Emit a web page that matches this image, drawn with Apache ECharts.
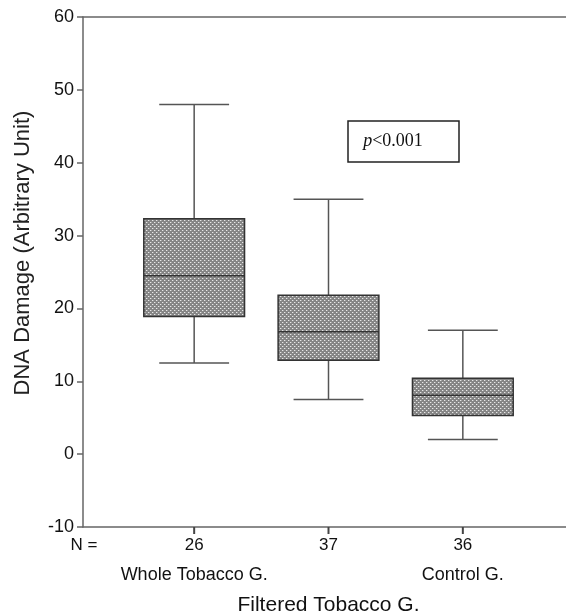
<!DOCTYPE html>
<html>
<head>
<meta charset="utf-8">
<script src="https://cdn.jsdelivr.net/npm/echarts@6/dist/echarts.min.js"></script>
<style>
  html, body { margin: 0; padding: 0; background: #fff; }
  #main { width: 566px; height: 615px; }
</style>
</head>
<body>
<div id="main"></div>
<script>
// groups and counts
var groups = ['Whole Tobacco G.', 'Filtered Tobacco G.', 'Control G.'];
var nCounts = [26, 37, 36];
// box statistics
var whiskerLow = [12.5, 7.5, 2.0];
var q1 = [18.9, 12.9, 5.3];
var median = [24.5, 16.8, 8.1];
var q3 = [32.3, 21.8, 10.4];
var whiskerHigh = [48, 35, 17];
var yMin = -10, yMax = 60;

var chart = echarts.init(document.getElementById('main'), null, { renderer: 'canvas' });

// crosshatch fill (grey with light dots)
var pat = document.createElement('canvas');
pat.width = 4;
pat.height = 4;
var pctx = pat.getContext('2d');
pctx.fillStyle = '#858585';
pctx.fillRect(0, 0, 4, 4);
pctx.fillStyle = '#e8e8e8';
pctx.fillRect(0, 0, 1, 1);
pctx.fillRect(2, 2, 1, 1);
pctx.fillStyle = '#a8a8a8';
pctx.fillRect(1, 0, 1, 1);
pctx.fillRect(3, 2, 1, 1);

var boxData = groups.map(function (g, i) {
  return [i, whiskerLow[i], q1[i], median[i], q3[i], whiskerHigh[i]];
});
var tickData = groups.map(function (g, i) { return [i, yMin]; });

var font = '"Liberation Sans", Arial, sans-serif';

var option = {
  backgroundColor: '#fff',
  animation: false,
  grid: [
    { left: 83, right: 0, top: 17, bottom: 88, outerBoundsMode: 'none', containLabel: false },
    { left: 127, width: 403, top: 17, bottom: 88, outerBoundsMode: 'none', containLabel: false }
  ],
  xAxis: [
    {
      type: 'value', gridIndex: 0, min: 0, max: 1,
      axisLine: { show: true, onZero: false, lineStyle: { color: '#666', width: 1.5 } },
      axisTick: { show: false }, axisLabel: { show: false }, splitLine: { show: false }
    },
    {
      type: 'value', gridIndex: 0, min: 0, max: 1, position: 'top',
      axisLine: { show: true, onZero: false, lineStyle: { color: '#666', width: 1.5 } },
      axisTick: { show: false }, axisLabel: { show: false }, splitLine: { show: false }
    },
    {
      type: 'category', gridIndex: 1, data: groups, position: 'bottom',
      axisLine: { show: false, onZero: false },
      axisTick: { show: false },
      axisLabel: {
        margin: 3,
        interval: 0,
        fontFamily: font,
        fontSize: 17,
        color: '#111',
        lineHeight: 30,
        formatter: function (v, i) {
          if (i === 1) return nCounts[i] + '\n\n{big|' + v + '}';
          return nCounts[i] + '\n{mid|' + v + '}';
        },
        rich: {
          mid: { fontFamily: font, fontSize: 18, color: '#111', lineHeight: 30 },
          big: { fontFamily: font, fontSize: 21, color: '#111', lineHeight: 30 }
        }
      }
    }
  ],
  yAxis: [
    {
      type: 'value', gridIndex: 0, min: yMin, max: yMax, interval: 10,
      axisLine: { show: true, lineStyle: { color: '#666', width: 1.5 } },
      axisTick: { show: true, length: 6, lineStyle: { color: '#666', width: 1.5 } },
      axisLabel: { fontFamily: font, fontSize: 18, color: '#111', margin: 9 },
      splitLine: { show: false }
    },
    {
      type: 'value', gridIndex: 1, min: yMin, max: yMax, interval: 10, show: false
    }
  ],
  graphic: [
    {
      type: 'text', x: 23, y: 253, rotation: Math.PI / 2,
      style: {
        text: 'DNA Damage (Arbitrary Unit)', fontFamily: font, fontSize: 22, fill: '#222',
        align: 'center', verticalAlign: 'middle'
      }
    },
    {
      type: 'text', x: 84, y: 545,
      style: { text: 'N =', fontFamily: font, fontSize: 17, fill: '#111', align: 'center', verticalAlign: 'middle' }
    },
    {
      type: 'rect', shape: { x: 348, y: 121, width: 111, height: 41 },
      style: { fill: '#fff', stroke: '#222', lineWidth: 1.5 }
    },
    {
      type: 'text', x: 393, y: 141,
      style: {
        text: '{i|p}{n|<0.001}', align: 'center', verticalAlign: 'middle',
        rich: {
          i: { fontFamily: '"Liberation Serif", serif', fontStyle: 'italic', fontSize: 18, fill: '#111' },
          n: { fontFamily: '"Liberation Serif", serif', fontSize: 18, fill: '#111' }
        }
      }
    }
  ],
  series: [
    {
      type: 'custom',
      xAxisIndex: 2,
      yAxisIndex: 1,
      clip: false,
      data: boxData,
      encode: { x: 0, y: [1, 2, 3, 4, 5] },
      renderItem: function (params, api) {
        var i = api.value(0);
        var x = api.coord([i, 0])[0];
        var lo = api.coord([i, api.value(1)])[1];
        var b1 = api.coord([i, api.value(2)])[1];
        var md = api.coord([i, api.value(3)])[1];
        var b3 = api.coord([i, api.value(4)])[1];
        var hi = api.coord([i, api.value(5)])[1];
        var band = api.size([1, 0])[0];
        var bw = band * 0.75;
        var cw = band * 0.52;
        var ws = { stroke: '#555', lineWidth: 1.5 };
        return {
          type: 'group',
          children: [
            { type: 'line', shape: { x1: x, y1: hi, x2: x, y2: b3 }, style: ws },
            { type: 'line', shape: { x1: x, y1: b1, x2: x, y2: lo }, style: ws },
            { type: 'line', shape: { x1: x - cw / 2, y1: hi, x2: x + cw / 2, y2: hi }, style: ws },
            { type: 'line', shape: { x1: x - cw / 2, y1: lo, x2: x + cw / 2, y2: lo }, style: ws },
            {
              type: 'rect',
              shape: { x: x - bw / 2, y: b3, width: bw, height: b1 - b3 },
              style: { fill: { image: pat, repeat: 'repeat' }, stroke: '#333', lineWidth: 1.5 }
            },
            { type: 'line', shape: { x1: x - bw / 2, y1: md, x2: x + bw / 2, y2: md }, style: { stroke: '#333', lineWidth: 1.5 } }
          ]
        };
      }
    },
    {
      // category ticks hanging below the x axis
      type: 'scatter',
      xAxisIndex: 2,
      yAxisIndex: 1,
      clip: false,
      silent: true,
      data: tickData,
      symbol: 'rect',
      symbolSize: [2, 7],
      symbolOffset: [0, 3.5],
      itemStyle: { color: '#444', opacity: 1 },
      z: 10
    }
  ]
};

chart.setOption(option);
</script>
</body>
</html>
